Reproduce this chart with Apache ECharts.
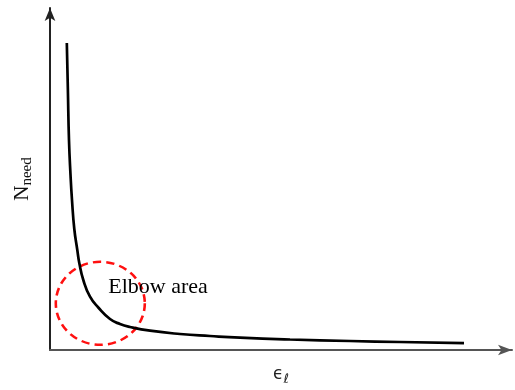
<!DOCTYPE html>
<html><head><meta charset="utf-8">
<script src="https://cdn.jsdelivr.net/npm/echarts@6/dist/echarts.min.js"></script>
<style>html,body{margin:0;padding:0;background:#fff}#c{width:515px;height:390px}</style>
</head><body><div id="c"></div>
<script>
// curve values (epsilon, N_need), axis range 0..100
const curveX = [3.64, 3.87, 4.11, 4.44, 4.76, 5.26, 5.91, 6.34, 7.21, 8.66, 10.45, 12.99, 15.15, 17.32, 21.65, 28.14, 34.63, 41.13, 51.95, 64.94, 75.76, 89.61];
const curveY = [89.77, 76.02, 61.40, 51.17, 43.86, 35.38, 29.24, 25.44, 20.47, 15.58, 12.43, 9.06, 7.60, 6.73, 5.64, 4.68, 4.09, 3.60, 3.07, 2.63, 2.34, 1.99];
// elbow annotation (center of dashed circle and label anchor)
const elbowCenter = [10.89, 13.65];
const elbowLabelPos = [12.62, 18.42];
const elbowText = 'Elbow area';

const chart = echarts.init(document.getElementById('c'));
const axisCommon = {
  min: 0, max: 100,
  splitLine: {show: false}, axisTick: {show: false}, axisLabel: {show: false},
  nameLocation: 'middle'
};
chart.setOption({
  animation: false,
  grid: {left: 50, right: 3, top: 8, bottom: 40, containLabel: false, outerBoundsMode: 'none'},
  xAxis: Object.assign({}, axisCommon, {
    type: 'value',
    name: '{e|ϵ}{s|ℓ}',
    nameGap: 13,
    nameTextStyle: {
      rich: {
        e: {fontFamily: 'DejaVu Sans', fontSize: 17, color: '#222'},
        s: {fontFamily: 'DejaVu Sans', fontSize: 13, fontStyle: 'italic', color: '#222', verticalAlign: 'bottom', padding: [10, 0, 0, 0]}
      }
    },
    axisLine: {lineStyle: {color: '#555', width: 2}, symbol: ['none', 'arrow'], symbolSize: [8, 14]}
  }),
  yAxis: Object.assign({}, axisCommon, {
    type: 'value',
    name: '{n|N}{s|need}',
    nameGap: 15,
    nameRotate: 90,
    nameTextStyle: {
      rich: {
        n: {fontFamily: 'Liberation Serif', fontSize: 21, color: '#111'},
        s: {fontFamily: 'Liberation Serif', fontSize: 15, color: '#111', verticalAlign: 'bottom', padding: [10, 0, 0, 0]}
      }
    },
    axisLine: {lineStyle: {color: '#222', width: 2}, symbol: ['none', 'arrow'], symbolSize: [8, 13]}
  }),
  series: [
    {
      type: 'scatter', silent: true, z: 1,
      symbol: 'circle', symbolSize: [89, 83],
      itemStyle: {opacity: 1, color: 'rgba(0,0,0,0)', borderColor: '#ff1010', borderWidth: 2.5, borderType: [8, 5]},
      data: [elbowCenter]
    },
    {
      type: 'line', silent: true, z: 3,
      smooth: 0.5, showSymbol: false,
      lineStyle: {color: '#000', width: 2.7},
      data: curveX.map((x, i) => [x, curveY[i]])
    },
    {
      type: 'scatter', silent: true, z: 4, symbolSize: 0,
      itemStyle: {opacity: 1},
      label: {show: true, position: 'inside', align: 'left', verticalAlign: 'middle',
        formatter: elbowText, fontFamily: 'Liberation Serif', fontSize: 22, color: '#000'},
      data: [elbowLabelPos]
    }
  ]
});
</script></body></html>
